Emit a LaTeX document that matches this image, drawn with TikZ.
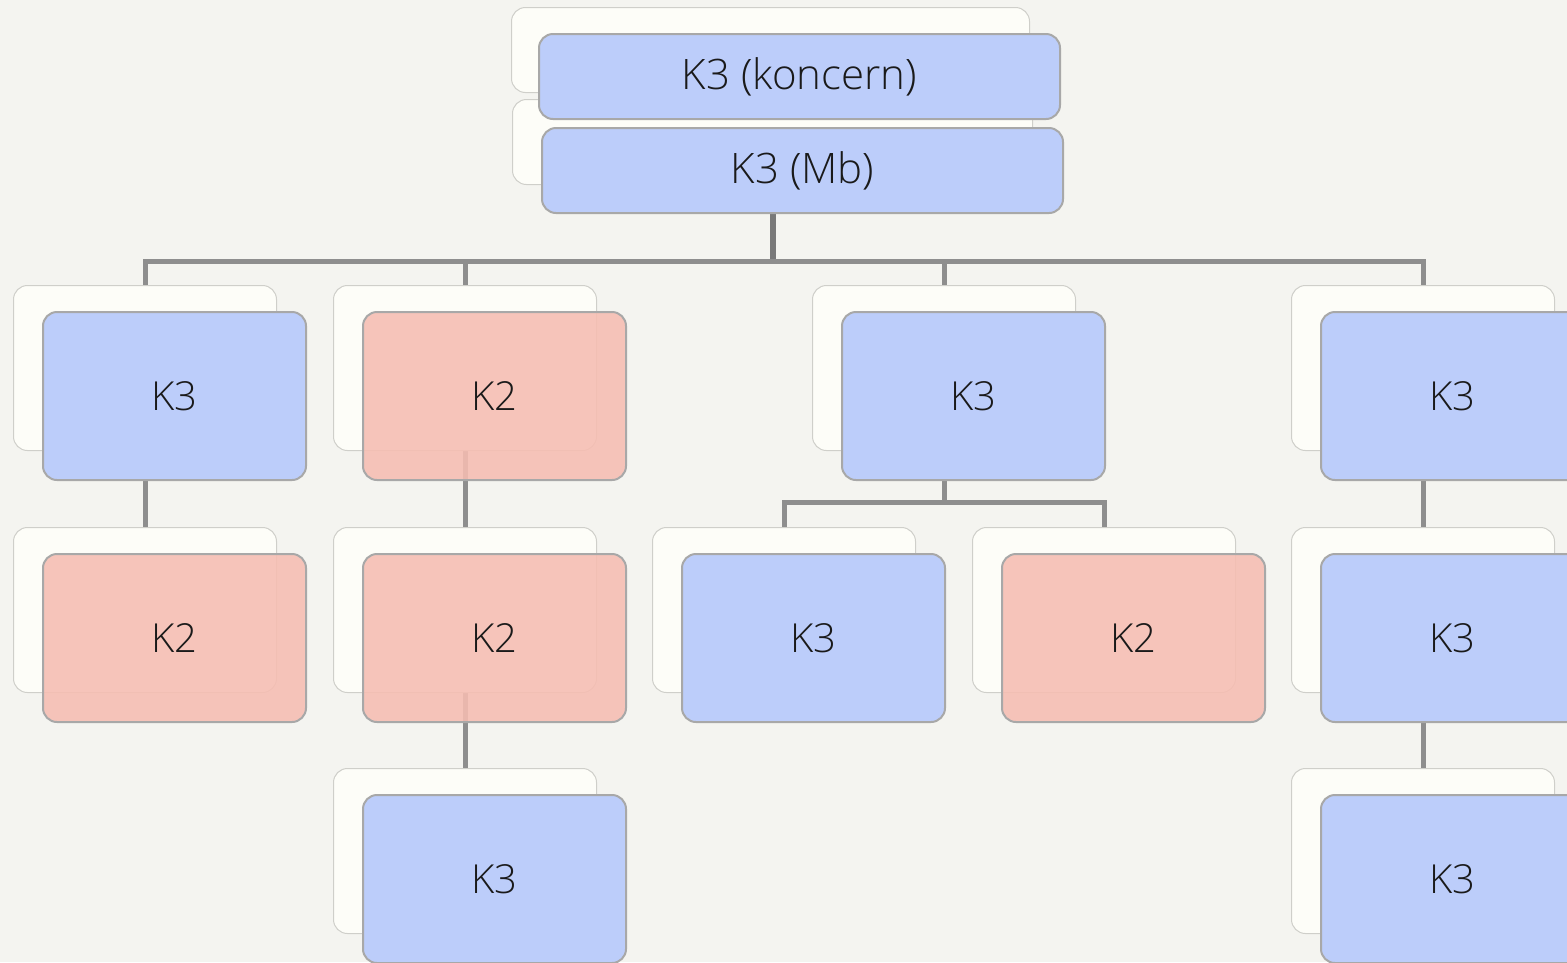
\documentclass[tikz,border=0pt]{standalone}
\usepackage{fontspec}
\setmainfont{Open Sans Light}
\pgfdeclarelayer{paper}
\pgfdeclarelayer{bg}
\pgfsetlayers{paper,bg,main}
\definecolor{bgc}{HTML}{F4F4F0}
\definecolor{bluc}{HTML}{BCCDFA}
\definecolor{redc}{HTML}{F6BDB2}
\definecolor{backc}{HTML}{FDFDF8}
\definecolor{backedge}{HTML}{CFCFCA}
\definecolor{edgec}{HTML}{A8A8A8}
\definecolor{linec}{HTML}{8E8E8E}
\definecolor{txtc}{HTML}{1A1A1A}
\tikzset{
 backcard/.style={draw=backedge, fill=backc, rounded corners=14pt, line width=1pt,
   minimum width=263pt, minimum height=165pt, inner sep=0pt, anchor=north west},
 frontcard/.style={draw=edgec, line width=2pt, rounded corners=14pt,
   minimum width=263pt, minimum height=168pt, inner sep=0pt, anchor=north west,
   font=\fontsize{40}{46}\selectfont, text=txtc},
 kthree/.style={frontcard, fill=bluc},
 ktwo/.style={frontcard, fill=redc, fill opacity=0.88, text opacity=1},
 topbox/.style={kthree, minimum width=521pt, minimum height=85pt, font=\fontsize{42}{48}\selectfont},
 conn/.style={draw=linec, line width=5pt},
}
\newcommand\cardpair[5]{%
  \node[backcard] (b#1) at (#2,#3) {};
  \node[#4] (f#1) at (#2+29,#3+26) {#5};}
\begin{document}
\begin{tikzpicture}[x=1pt,y=-1pt]
\useasboundingbox (0,0) rectangle (1567,962);
\clip (0,0) rectangle (1567,962);
\begin{pgfonlayer}{paper}
\fill[bgc] (0,0) rectangle (1567,962);
\end{pgfonlayer}
% top boxes
\node[backcard, minimum width=518pt, minimum height=85pt] (bT1) at (511,7) {};
\node[backcard, minimum width=520pt, minimum height=85pt] (bT2) at (512,99) {};
\node[topbox] (fT1) at (538,33) {K3 (koncern)};
\node[topbox] (fT2) at (541,127) {K3 (Mb)};
% level 1
\cardpair{A1}{13}{285}{kthree}{K3}
\cardpair{B1}{333}{285}{ktwo}{K2}
\cardpair{C1}{812}{285}{kthree}{K3}
\cardpair{D1}{1291}{285}{kthree}{K3}
% level 2
\cardpair{A2}{13}{527}{ktwo}{K2}
\cardpair{B2}{333}{527}{ktwo}{K2}
\cardpair{C21}{652}{527}{kthree}{K3}
\cardpair{C22}{972}{527}{ktwo}{K2}
\cardpair{D2}{1291}{527}{kthree}{K3}
% level 3
\cardpair{B3}{333}{768}{kthree}{K3}
\cardpair{D3}{1291}{768}{kthree}{K3}
% connectors
\coordinate (jn) at (771,261);
\coordinate (jc) at (943,502);
\begin{pgfonlayer}{bg}
\draw[conn, line width=6pt, draw=linec!85!black] (bT2.center) -- (bT2.center |- jn);
\draw[conn] (bA1.north) -- (bA1.north |- jn) -- (bD1.north |- jn) -- (bD1.north);
\draw[conn] (bB1.north) -- (bB1.north |- jn);
\draw[conn] (bC1.north) -- (bC1.north |- jn);
\draw[conn] (bA1.center) -- (bA2.north);
\draw[conn] (bB1.center) -- (bB2.north);
\draw[conn] (bB2.center) -- (bB3.north);
\draw[conn] (bD1.center) -- (bD2.north);
\draw[conn] (bD2.center) -- (bD3.north);
\draw[conn] (bC1.center) -- (bC1.center |- jc);
\draw[conn] (bC21.north) |- (jc) -| (bC22.north);
\end{pgfonlayer}
\end{tikzpicture}
\end{document}
